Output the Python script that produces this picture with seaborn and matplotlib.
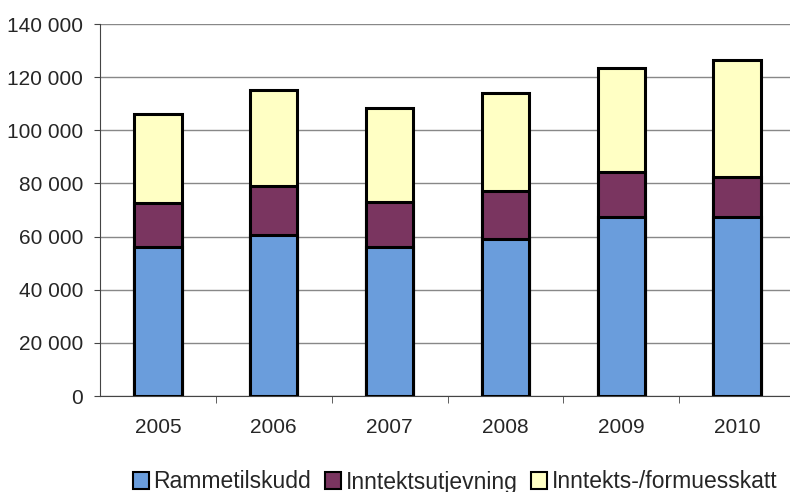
import matplotlib
matplotlib.use("Agg")
import matplotlib.pyplot as plt
import seaborn as sns
import pandas as pd
import numpy as np
from matplotlib.patches import Patch

years = ["2005", "2006", "2007", "2008", "2009", "2010"]
rammetilskudd = [55900, 60600, 55900, 59200, 67200, 67500]
inntektsutjevning = [16700, 18500, 17200, 18000, 17200, 15000]
skatt = [33500, 36100, 35300, 36700, 38900, 43800]
series_names = ["Rammetilskudd", "Inntektsutjevning", "Inntekts-/formuesskatt"]
yticks = [0, 20000, 40000, 60000, 80000, 100000, 120000, 140000]

colors = ["#6a9ddc", "#7a3560", "#ffffc4"]

sns.set_style("white")
plt.rcParams["font.family"] = ["Liberation Sans", "DejaVu Sans"]

fig = plt.figure(figsize=(7.9, 4.92), dpi=100)
ax = fig.add_axes([100 / 790, 96 / 492, 695 / 790, 372 / 492])

r = np.array(rammetilskudd)
i = np.array(inntektsutjevning)
s = np.array(skatt)
df = pd.DataFrame({"year": years, "total": r + i + s, "ri": r + i, "r": r})

for col, c in zip(["total", "ri", "r"], colors[::-1]):
    sns.barplot(data=df, x="year", y=col, color=c, width=0.41, ax=ax,
                edgecolor="black", linewidth=2.2, saturation=1, zorder=3)

ax.set_ylim(0, 140000)
ax.set_xlim(-0.5, 5.5)
ax.set_yticks(yticks)
ax.set_yticklabels([f"{v:,}".replace(",", " ") for v in yticks], fontsize=15)
ax.set_xlabel("")
ax.set_ylabel("")
ax.yaxis.grid(True, color="#888888", linewidth=1, zorder=0)
ax.set_axisbelow(True)
for sp in ["top", "right"]:
    ax.spines[sp].set_visible(False)
ax.spines["left"].set_color("#444444")
ax.spines["bottom"].set_color("#444444")
ax.tick_params(axis="y", left=True, length=4, color="#444444", pad=8, labelsize=15)
ax.tick_params(axis="x", which="major", length=0, pad=16, labelsize=15)
ax.set_xticks([0.5, 1.5, 2.5, 3.5, 4.5], minor=True)
ax.tick_params(axis="x", which="minor", bottom=True, length=5, color="#444444")

handles = [Patch(facecolor=c, edgecolor="black", linewidth=1.5) for c in colors]
fig.legend(handles, series_names, loc="center", bbox_to_anchor=(455 / 790, 1 - 482 / 492),
           ncol=3, frameon=False, fontsize=16.5, handlelength=0.7, handleheight=0.7,
           handletextpad=0.2, columnspacing=0.6, borderaxespad=0)

fig.savefig("out.png", dpi=100)
